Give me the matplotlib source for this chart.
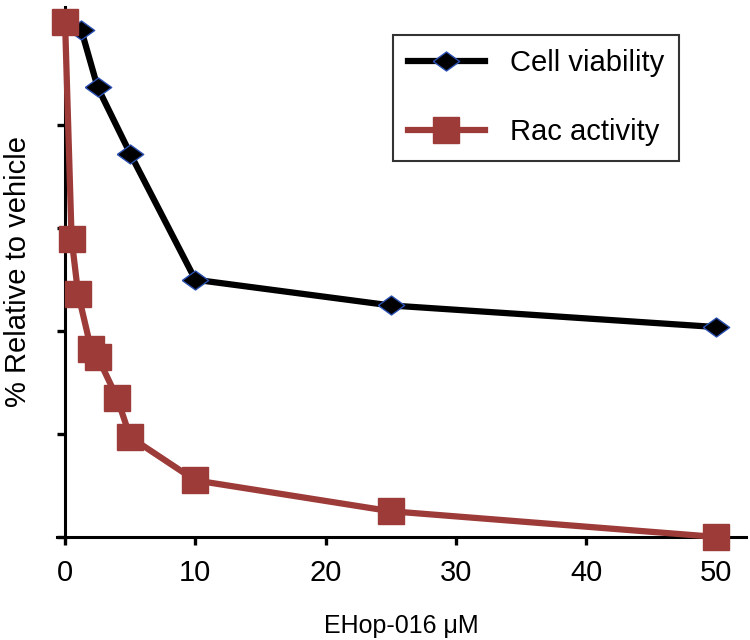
import matplotlib
matplotlib.use('Agg')
import matplotlib.pyplot as plt

plt.rcParams['font.family'] = ['Liberation Sans', 'DejaVu Sans']

# (% of vehicle)
dose_cell = [0, 1.25, 2.5, 5, 10, 25, 50]
cell_viability = [100, 98.5, 87.4, 74.5, 50, 45, 40.8]

dose_rac = [0, 0.5, 1, 2, 2.5, 4, 5, 10, 25, 50]
rac_activity = [100, 58, 47.3, 36.5, 35, 27, 19.4, 11, 5, 0]

x_ticks = [0, 10, 20, 30, 40, 50]
y_ticks = [0, 20, 40, 60, 80, 100]

red = '#9d3b39'
# flat diamond like the original marker
flat_diamond = [(-1, 0), (0, 0.72), (1, 0), (0, -0.72), (-1, 0)]

fig = plt.figure(figsize=(7.5, 6.4), dpi=100)
ax = fig.add_axes([0.076, 0.161, 0.919, 0.828])

ax.plot(dose_cell, cell_viability, color='black', linewidth=4.5, marker=flat_diamond,
        markersize=19, markerfacecolor='black', markeredgecolor='#2a4fb0',
        markeredgewidth=1, label='Cell viability', clip_on=False, zorder=3,
        solid_joinstyle='round')
ax.plot(dose_rac, rac_activity, color=red, linewidth=4.5, marker='s',
        markersize=19, markerfacecolor=red, markeredgecolor=red,
        label='Rac activity', clip_on=False, zorder=4, solid_joinstyle='round')

ax.set_xlim(-0.62, 52.3)
ax.set_ylim(0, 103)
ax.set_xticks(x_ticks)
ax.set_yticks(y_ticks)
ax.set_yticklabels([])

ax.spines['top'].set_visible(False)
ax.spines['right'].set_visible(False)
ax.spines['left'].set_position(('data', 0))
for s in ['left', 'bottom']:
    ax.spines[s].set_linewidth(2.2)
ax.tick_params(axis='both', direction='out', length=6, width=2.4, labelsize=21, pad=10)

ax.set_xlabel('EHop-016 \u03bcM', fontsize=18, labelpad=19)
ax.set_ylabel('% Relative to vehicle', fontsize=21)
ax.yaxis.set_label_coords(-0.036, 0.5)

leg = ax.legend(loc='upper right', bbox_to_anchor=(0.902, 0.948), fontsize=21,
                frameon=True, fancybox=False, edgecolor='black', handlelength=2.65,
                handletextpad=0.85, labelspacing=1.4, borderpad=0.5, borderaxespad=0)
leg.get_frame().set_linewidth(1.5)

fig.savefig('out.png', dpi=100)
